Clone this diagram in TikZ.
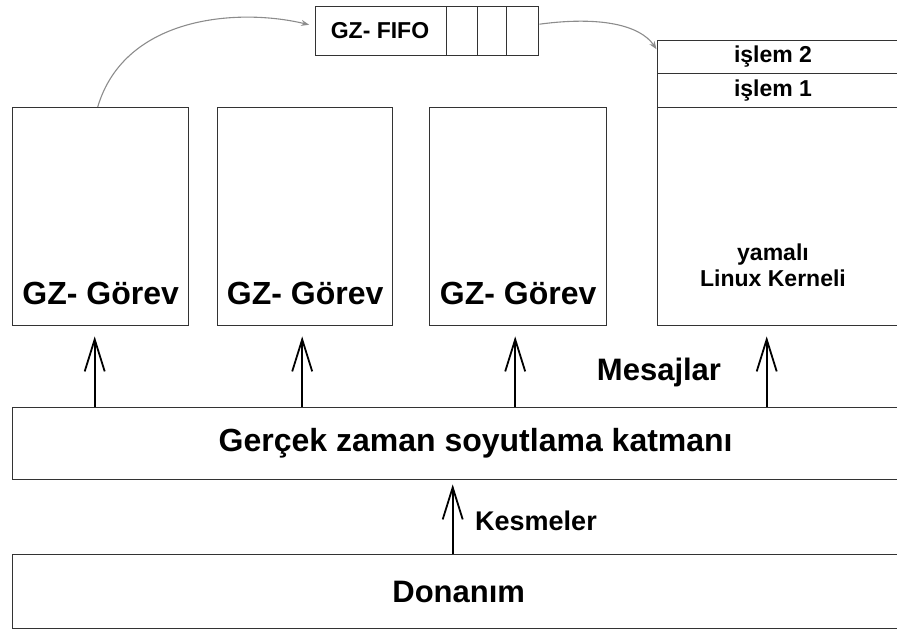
\documentclass[tikz,border=0pt]{standalone}
\usepackage{fontspec}
\setmainfont{Liberation Sans}
\usetikzlibrary{arrows.meta}

\tikzset{
  box/.style={draw=black!80, line width=1.4pt, inner sep=0pt, anchor=north west},
  bigtxt/.style={font=\bfseries\fontsize{31}{33}\selectfont, inner sep=0pt},
  midtxt/.style={font=\bfseries\fontsize{23}{26}\selectfont, inner sep=0pt},
  up/.style={line width=2pt, -{Straight Barb[length=32pt, width=20pt, line width=1.8pt]}},
  link/.style={draw=black!45, line width=1.1pt, -{Stealth[length=8pt, width=6pt]}}
}

\begin{document}
\begin{tikzpicture}[x=1pt, y=-1pt]
  \useasboundingbox (0,0) rectangle (897,634);

  % FIFO
  \node[box, minimum width=131pt, minimum height=49pt] (fifo) at (315,6) {};
  \node[midtxt] (fifotxt) at (380,31) {GZ- FIFO};
  \node[box, minimum width=31pt, minimum height=49pt] (cell1) at (446,6) {};
  \node[box, minimum width=29pt, minimum height=49pt] (cell2) at (477,6) {};
  \node[box, minimum width=32pt, minimum height=49pt] (cell3) at (506,6) {};

  % tasks
  \node[box, minimum width=176pt, minimum height=218pt] (gorev1) at (12,107) {};
  \node[box, minimum width=175pt, minimum height=218pt] (gorev2) at (217,107) {};
  \node[box, minimum width=177pt, minimum height=218pt] (gorev3) at (429,107) {};
  \node[bigtxt, font=\bfseries\fontsize{32}{34}\selectfont] (gorev1txt) at ([yshift=33pt]gorev1.south) {GZ- Görev};
  \node[bigtxt, font=\bfseries\fontsize{32}{34}\selectfont] (gorev2txt) at ([yshift=33pt]gorev2.south) {GZ- Görev};
  \node[bigtxt, font=\bfseries\fontsize{32}{34}\selectfont] (gorev3txt) at ([yshift=33pt]gorev3.south) {GZ- Görev};

  % linux side
  \node[box, minimum width=250pt, minimum height=33pt] (islem2) at (657,40) {};
  \node[box, minimum width=250pt, minimum height=34pt] (islem1) at (657,73) {};
  \node[box, minimum width=250pt, minimum height=218pt] (kernel) at (657,107) {};
  \node[midtxt] (islem2txt) at (773,57) {işlem 2};
  \node[midtxt] (islem1txt) at (773,91) {işlem 1};
  \node[midtxt, align=center] (kerneltxt) at (773,265) {yamalı\\Linux Kerneli};

  % layers
  \node[box, minimum width=926pt, minimum height=72pt, bigtxt, font=\bfseries\fontsize{32}{34}\selectfont] (layer) at (12,407)
    {Gerçek zaman soyutlama katmanı};
  \node[box, minimum width=892pt, minimum height=74pt, bigtxt] (donanim) at (12,554)
    {Donanım};

  \node[bigtxt] (mesaj) at (659,372) {Mesajlar};
  \node[bigtxt, font=\bfseries\fontsize{27}{30}\selectfont, anchor=west] (kesme) at (475,521) {Kesmeler};

  % arrows
  \draw[up, shorten >=10pt] ([xshift=-6pt]layer.north -| gorev1.south) -- ([xshift=-6pt]gorev1.south);
  \draw[up, shorten >=10pt] ([xshift=-3pt]layer.north -| gorev2.south) -- ([xshift=-3pt]gorev2.south);
  \draw[up, shorten >=10pt] ([xshift=-3pt]layer.north -| gorev3.south) -- ([xshift=-3pt]gorev3.south);
  \draw[up, shorten >=10pt] ([xshift=-16pt]layer.north -| kernel.south) -- ([xshift=-16pt]kernel.south);
  \draw[up, shorten >=4pt] ([xshift=-6pt]donanim.north) -- ([xshift=-6pt]donanim.north |- layer.south);

  \draw[link, shorten >=6pt] ([xshift=-3pt]gorev1.north) .. controls (125,15) and (240,8) .. ([yshift=5pt]fifo.west);
  \draw[link, shorten >=1pt] ([yshift=7pt]cell3.east) .. controls (600,16) and (640,25) .. ([yshift=-10pt]islem2.north west);
\end{tikzpicture}
\end{document}
